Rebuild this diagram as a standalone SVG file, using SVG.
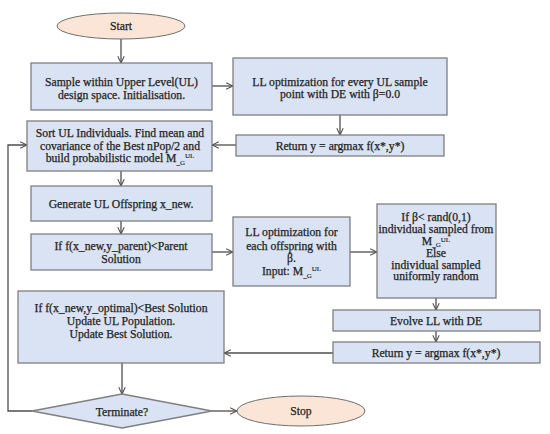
<svg xmlns="http://www.w3.org/2000/svg" width="550" height="434" viewBox="0 0 550 434">
<defs>
<style>
.box{fill:#dae3f3;stroke:#7f7f7f;stroke-width:1.3}
.term{fill:#fbe5d6;stroke:#6f6f6f;stroke-width:1}
.t{font-family:"Liberation Serif","DejaVu Serif",serif;font-size:11.7px;fill:#222;stroke:#222;stroke-width:0.25;text-anchor:middle}
.s{font-size:7px;stroke-width:0.15}
.c{fill:none;stroke:#4d4d4d;stroke-width:1.3;marker-end:url(#ah)}
</style>
<marker id="ah" viewBox="0 0 10 10" refX="9.5" refY="5" markerWidth="8" markerHeight="8" markerUnits="userSpaceOnUse" orient="auto">
<path d="M1,1 L9.5,5 L1,9" fill="none" stroke="#4d4d4d" stroke-width="1.3"/>
</marker>
</defs>
<rect width="550" height="434" fill="#fff"/>
<g id="connectors">
<path class="c" d="M121,39 V63"/>
<path class="c" d="M212,86 H233"/>
<path class="c" d="M340,115 V135"/>
<path class="c" d="M236,145 H212"/>
<path class="c" d="M121,171 V186"/>
<path class="c" d="M121,221 V234"/>
<path class="c" d="M212,252 H233"/>
<path class="c" d="M350,252 H377"/>
<path class="c" d="M436,298 V310"/>
<path class="c" d="M436,331 V342"/>
<path class="c" d="M333,353 H224"/>
<path class="c" d="M122,363 V394"/>
<path class="c" d="M212,411 H237"/>
<path class="c" d="M32,411 H8 V145 H27"/>
</g>
<g id="start">
<ellipse class="term" cx="121" cy="26" rx="64" ry="13"/>
<text class="t" x="121" y="30">Start</text>
</g>
<g id="sample">
<rect class="box" x="31" y="63" width="181" height="47"/>
<text class="t" x="121.5" y="86">Sample within Upper Level(UL)</text>
<text class="t" x="121.5" y="99">design space. Initialisation.</text>
</g>
<g id="ll-every">
<rect class="box" x="233" y="58" width="214" height="57"/>
<text class="t" x="340" y="86">LL optimization for every UL sample</text>
<text class="t" x="340" y="98">point with DE with β=0.0</text>
</g>
<g id="return1">
<rect class="box" x="236" y="135" width="208" height="21"/>
<text class="t" x="340" y="150">Return y = argmax f(x*,y*)</text>
</g>
<g id="sort">
<rect class="box" x="27" y="121" width="185" height="50"/>
<text class="t" x="120" y="137">Sort UL Individuals. Find mean and</text>
<text class="t" x="120" y="150">covariance of the Best nPop/2 and</text>
<text class="t" x="120" y="162">build probabilistic model M<tspan class="s" dy="3">_G</tspan><tspan class="s" dy="-7">UL</tspan></text>
</g>
<g id="generate">
<rect class="box" x="31" y="186" width="181" height="35"/>
<text class="t" x="121" y="208">Generate UL Offspring x_new.</text>
</g>
<g id="if-parent">
<rect class="box" x="31" y="234" width="181" height="36"/>
<text class="t" x="121" y="250">If f(x_new,y_parent)&lt;Parent</text>
<text class="t" x="121" y="263">Solution</text>
</g>
<g id="ll-each">
<rect class="box" x="233" y="217" width="117" height="69"/>
<text class="t" x="291.5" y="236">LL optimization for</text>
<text class="t" x="291.5" y="250">each offspring with</text>
<text class="t" x="291.5" y="262">β.</text>
<text class="t" x="291.5" y="275">Input: M<tspan class="s" dy="3">_G</tspan><tspan class="s" dy="-7">UL</tspan></text>
</g>
<g id="if-beta">
<rect class="box" x="377" y="204" width="119" height="94"/>
<text class="t" x="436" y="221">If β&lt; rand(0,1)</text>
<text class="t" x="436" y="233">individual sampled from</text>
<text class="t" x="436" y="245">M<tspan class="s" dy="1.5">_G</tspan><tspan class="s" dy="-4.5">UL</tspan></text>
<text class="t" x="436" y="257">Else</text>
<text class="t" x="436" y="268.5">individual sampled</text>
<text class="t" x="436" y="280">uniformly random</text>
</g>
<g id="evolve">
<rect class="box" x="333" y="310" width="207" height="21"/>
<text class="t" x="436" y="325">Evolve LL with DE</text>
</g>
<g id="return2">
<rect class="box" x="333" y="342" width="207" height="21"/>
<text class="t" x="436" y="357">Return y = argmax f(x*,y*)</text>
</g>
<g id="if-best">
<rect class="box" x="18" y="291" width="206" height="72"/>
<text class="t" x="121" y="312">If f(x_new,y_optimal)&lt;Best Solution</text>
<text class="t" x="121" y="325">Update UL Population.</text>
<text class="t" x="121" y="338">Update Best Solution.</text>
</g>
<g id="terminate">
<polygon class="box" points="122,394 212,411 122,428 32,411"/>
<text class="t" x="122" y="415.5">Terminate?</text>
</g>
<g id="stop">
<ellipse class="term" cx="301" cy="411" rx="64" ry="15"/>
<text class="t" x="301" y="415">Stop</text>
</g>
</svg>
